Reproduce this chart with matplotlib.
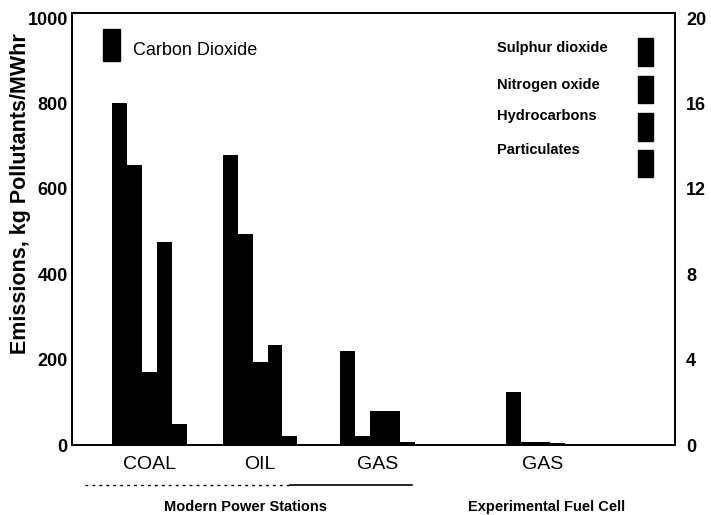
import numpy as np
import matplotlib
matplotlib.use("Agg")
import matplotlib.pyplot as plt
from matplotlib.lines import Line2D
from matplotlib.patches import Rectangle

plt.rcParams['font.family'] = ['Liberation Sans', 'DejaVu Sans']

# emissions per MWhr: CO2 on left scale, the rest on the right scale
categories = ['COAL', 'OIL', 'GAS', 'GAS']
co2 = [800, 680, 220, 124]
sulphur_dioxide = [13.1, 9.9, 0.4, 0.15]
nitrogen_oxide = [3.4, 3.9, 1.6, 0.12]
hydrocarbons = [9.5, 4.7, 1.6, 0.08]
particulates = [1.0, 0.4, 0.15, 0.03]
others = [sulphur_dioxide, nitrogen_oxide, hydrocarbons, particulates]
other_names = ['Sulphur dioxide', 'Nitrogen oxide', 'Hydrocarbons', 'Particulates']

left_ticks = [0, 200, 400, 600, 800, 1000]
right_ticks = [0, 4, 8, 12, 16, 20]

group_pos = np.array([0, 0.97, 2.0, 3.45])
w = 0.13

fig = plt.figure(figsize=(7.11, 5.15), dpi=100)
ax = fig.add_axes([0.1013, 0.1359, 0.8481, 0.8389])
ax2 = ax.twinx()

ax.bar(group_pos - 2 * w, co2, width=w, color='black', linewidth=0)
for k, series in enumerate(others):
    ax2.bar(group_pos + (k - 1) * w, series, width=w, color='black', linewidth=0)

ax.set_xlim(-0.68, 4.61)
ax.set_ylim(0, 1012)
ax2.set_ylim(0, 20.24)

ax.set_yticks(left_ticks)
ax.set_yticklabels([str(t) for t in left_ticks], fontsize=13, fontweight='bold')
ax2.set_yticks(right_ticks)
ax2.set_yticklabels([str(t) for t in right_ticks], fontsize=13, fontweight='bold')
ax.tick_params(axis='y', length=0, pad=3)
ax2.tick_params(axis='y', length=0, pad=8)

ax.set_xticks(group_pos)
ax.set_xticklabels(categories, fontsize=14)
ax.tick_params(axis='x', length=0, pad=8)

for a in (ax, ax2):
    for s in a.spines.values():
        s.set_linewidth(1.3)

ax.set_ylabel('Emissions, kg Pollutants/MWhr', fontsize=15.5, fontweight='bold')
ax.yaxis.set_label_coords(-0.068, 0.583)

# legend boxes drawn by hand, the way the original sheet lays them out
ax.add_patch(Rectangle((0.052, 0.888), 0.028, 0.074, transform=ax.transAxes,
                       color='black'))
ax.text(0.101, 0.914, 'Carbon Dioxide', transform=ax.transAxes,
        fontsize=13, va='center', ha='left')

label_y = [0.920, 0.833, 0.761, 0.682]
box_y = [0.877, 0.791, 0.704, 0.620]
for name, ty, by in zip(other_names, label_y, box_y):
    ax2.text(0.705, ty, name, transform=ax.transAxes, fontsize=10.5,
             fontweight='bold', va='center', ha='left')
    ax2.add_patch(Rectangle((0.938, by), 0.025, 0.064, transform=ax.transAxes,
                            color='black'))

# bracket line under the power station groups
fig.add_artist(Line2D([85 / 711, 290 / 711], [1 - 485 / 515] * 2,
                      color='black', lw=1, ls=(0, (2, 3))))
fig.add_artist(Line2D([290 / 711, 412 / 711], [1 - 485 / 515] * 2,
                      color='black', lw=1.2))

fig.text(245 / 711, 1 - 507 / 515, 'Modern Power Stations', fontsize=10.5,
         fontweight='bold', ha='center', va='center')
fig.text(547 / 711, 1 - 507 / 515, 'Experimental Fuel Cell', fontsize=10.5,
         fontweight='bold', ha='center', va='center')

fig.savefig('out.png', dpi=100)
